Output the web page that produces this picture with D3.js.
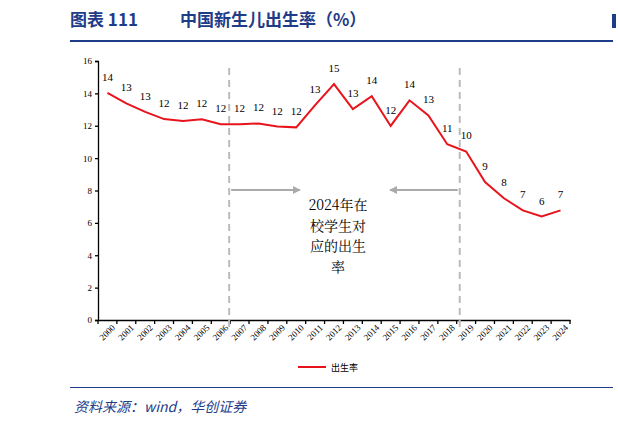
<!DOCTYPE html><html><head><meta charset="utf-8"><script src="https://cdn.jsdelivr.net/npm/d3@7"></script>
<style>body{margin:0;background:#fff}</style></head><body><svg id="c" width="618" height="425"></svg>
<script>
const years=["2000","2001","2002","2003","2004","2005","2006","2007","2008","2009","2010","2011","2012","2013","2014","2015","2016","2017","2018","2019","2020","2021","2022","2023","2024"];
const rate=[14.03,13.38,12.86,12.41,12.29,12.40,12.09,12.10,12.14,11.95,11.90,13.27,14.57,13.03,13.83,11.99,13.57,12.64,10.86,10.41,8.52,7.52,6.77,6.39,6.77];
const labels=[14,13,13,12,12,12,12,12,12,12,12,13,15,13,14,12,14,13,11,10,9,8,7,6,7];
const yTicks=[0,2,4,6,8,10,12,14,16];
const svg=d3.select("#c");
const serif="'Liberation Serif','DejaVu Serif',serif";
const cjk="'Noto Sans CJK SC',sans-serif";
svg.append("text").attr("x",70).attr("y",26).attr("fill","#1f3c88").attr("font-weight","bold").attr("font-size",17).attr("font-family",cjk).text("图表 111");
svg.append("text").attr("x",180).attr("y",26).attr("fill","#1f3c88").attr("font-weight","bold").attr("font-size",17).attr("font-family",cjk).text("中国新生儿出生率（%）");
svg.append("rect").attr("x",70).attr("y",40).attr("width",543).attr("height",2).attr("fill","#1f3c88");
svg.append("rect").attr("x",612).attr("y",14).attr("width",4).attr("height",14).attr("fill","#1f3c88");
const x=d3.scaleBand().domain(years).range([98,570]);
const y=d3.scaleLinear().domain([0,16]).range([320,61]);
const gy=svg.append("g").attr("transform","translate(98,0)").call(d3.axisLeft(y).tickValues(yTicks).tickSize(3));
const gx=svg.append("g").attr("transform","translate(0,320)").call(d3.axisBottom(x).tickSize(4).tickSizeOuter(0));
gx.selectAll(".tick line").attr("transform",`translate(${-x.bandwidth()/2},0)`);
gx.append("line").attr("x1",570).attr("x2",570).attr("y1",0).attr("y2",4).attr("stroke","#000");
[gx,gy].forEach(g=>{g.selectAll("path,line").attr("stroke","#000").attr("stroke-width",1.3);g.selectAll("text").attr("font-family",serif).attr("font-size",9).attr("fill","#000");});
gx.selectAll("text").attr("text-anchor","end").attr("transform","translate(6,6) rotate(-45)").attr("y",0).attr("dy","0.35em").attr("dx","0");
const cx=d=>x(d)+x.bandwidth()/2;
const xv1=x("2007")-1, xv2=x("2019")+3;
[xv1,xv2].forEach(v=>svg.append("line").attr("x1",v).attr("x2",v).attr("y1",68).attr("y2",332).attr("stroke","#bbb").attr("stroke-width",2).attr("stroke-dasharray","7,5"));
svg.append("path").datum(years).attr("fill","none").attr("stroke","#e8141c").attr("stroke-width",2)
 .attr("d",d3.line().x(d=>cx(d)).y((d,i)=>y(rate[i])));
svg.selectAll(".lb").data(years).join("text").attr("x",d=>cx(d)).attr("y",(d,i)=>y(rate[i])-12).attr("text-anchor","middle")
 .attr("font-family",serif).attr("font-size",11).text((d,i)=>labels[i]);
const defs=svg.append("defs");
defs.append("marker").attr("id","ah").attr("viewBox","0 0 10 10").attr("refX",9).attr("refY",5).attr("markerWidth",4).attr("markerHeight",4).attr("orient","auto")
 .append("path").attr("d","M0,0L10,5L0,10z").attr("fill","#aaa");
svg.append("line").attr("x1",xv1+2).attr("x2",300).attr("y1",190).attr("y2",190).attr("stroke","#aaa").attr("stroke-width",2).attr("marker-end","url(#ah)");
svg.append("line").attr("x1",xv2-2).attr("x2",390).attr("y1",190).attr("y2",190).attr("stroke","#aaa").attr("stroke-width",2).attr("marker-end","url(#ah)");
["2024年在","校学生对","应的出生","率"].forEach((t,i)=>svg.append("text").attr("x",338).attr("y",210+i*20.5).attr("text-anchor","middle").attr("font-family","'Noto Serif CJK SC','Noto Sans CJK SC',serif").attr("font-size",14).text(t));
svg.append("line").attr("x1",298).attr("x2",326).attr("y1",367).attr("y2",367).attr("stroke","#e8141c").attr("stroke-width",2);
svg.append("text").attr("x",331).attr("y",371).attr("font-family",cjk).attr("font-size",9).text("出生率");
svg.append("rect").attr("x",70).attr("y",387).attr("width",543).attr("height",1).attr("fill","#1f3c88");
svg.append("text").attr("x",74).attr("y",412).attr("fill","#1f3c88").attr("font-style","italic").attr("font-size",14).attr("font-family",cjk).text("资料来源：wind，华创证券");
</script></body></html>
